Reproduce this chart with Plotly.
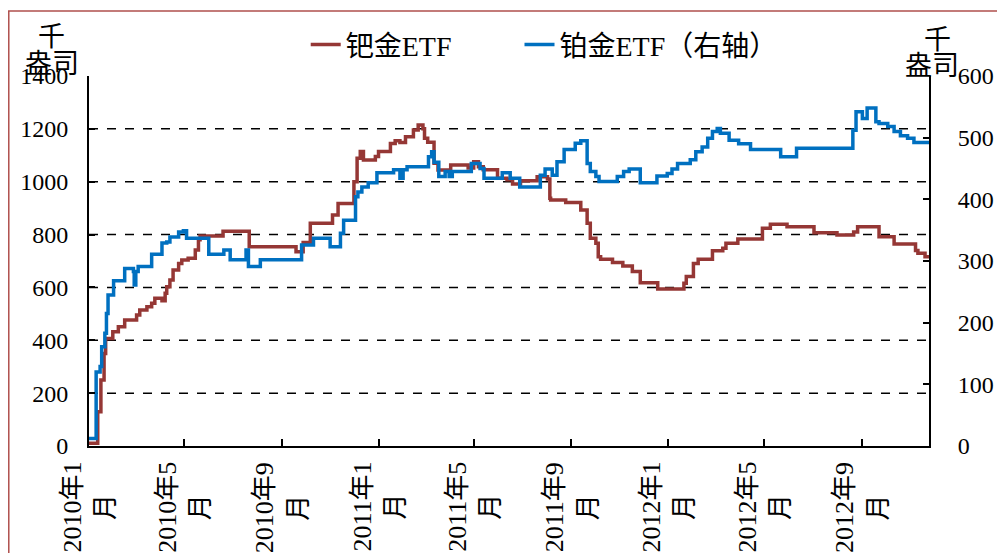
import plotly.graph_objects as go

# 钯金ETF (left axis, 千盎司)
pd_dates = ["2010-01-01", "2010-01-09", "2010-01-12", "2010-01-16", "2010-01-20", "2010-01-22",
            "2010-01-31", "2010-02-07", "2010-02-15", "2010-03-02", "2010-03-06", "2010-03-15",
            "2010-03-21", "2010-03-25", "2010-04-03", "2010-04-07", "2010-04-09", "2010-04-13",
            "2010-04-17", "2010-04-24", "2010-04-28", "2010-05-06", "2010-05-15", "2010-05-19",
            "2010-05-21", "2010-06-19", "2010-07-22", "2010-09-19", "2010-09-28", "2010-10-07",
            "2010-11-04", "2010-11-11", "2010-12-01", "2010-12-05", "2010-12-09", "2010-12-13",
            "2010-12-28", "2011-01-01", "2011-01-16", "2011-01-22", "2011-01-28", "2011-02-04",
            "2011-02-14", "2011-02-20", "2011-02-26", "2011-02-28", "2011-03-04", "2011-03-12",
            "2011-03-17", "2011-04-02", "2011-04-24", "2011-05-01", "2011-05-07", "2011-05-13",
            "2011-05-31", "2011-06-12", "2011-06-19", "2011-06-29", "2011-07-20", "2011-08-02",
            "2011-08-05", "2011-08-06", "2011-08-25", "2011-09-13", "2011-09-21", "2011-09-25",
            "2011-10-02", "2011-10-05", "2011-10-08", "2011-10-23", "2011-11-05", "2011-11-17",
            "2011-11-27", "2011-12-19", "2012-01-21", "2012-01-24", "2012-02-02", "2012-02-08",
            "2012-02-26", "2012-03-10", "2012-03-14", "2012-03-29", "2012-04-29", "2012-05-09",
            "2012-05-30", "2012-07-03", "2012-08-01", "2012-08-22", "2012-08-27", "2012-09-23",
            "2012-10-12", "2012-11-08", "2012-11-11", "2012-11-20", "2012-11-25"]
pd_values = [10, 10, 130, 250, 350, 407,
             432, 451, 477, 496, 515, 527,
             540, 559, 550, 578, 603, 628,
             666, 691, 704, 710, 742, 780,
             795, 813, 754, 735, 770, 843,
             874, 918, 1000, 1089, 1114, 1082,
             1095, 1114, 1145, 1155, 1148, 1170,
             1196, 1215, 1200, 1164, 1149, 1070,
             1044, 1063, 1052, 1076, 1057, 1045,
             1013, 1007, 991, 1004, 1019, 1010,
             937, 931, 921, 893, 843, 786,
             767, 716, 707, 694, 681, 660,
             618, 594, 616, 641, 691, 707,
             739, 748, 767, 783, 824, 839,
             830, 807, 798, 810, 830, 792,
             764, 740, 729, 716, 710]

# 铂金ETF (right axis, 千盎司)
pt_dates = ["2010-01-01", "2010-01-10", "2010-01-15", "2010-01-17", "2010-01-21", "2010-01-23",
            "2010-01-25", "2010-02-01", "2010-02-15", "2010-02-26", "2010-02-27", "2010-03-01",
            "2010-03-04", "2010-03-21", "2010-04-03", "2010-04-09", "2010-04-13", "2010-04-24",
            "2010-04-30", "2010-05-04", "2010-06-01", "2010-06-20", "2010-06-28", "2010-07-18",
            "2010-07-21", "2010-08-05", "2010-09-26", "2010-10-11", "2010-11-01", "2010-11-14",
            "2010-11-18", "2010-12-03", "2010-12-06", "2010-12-11", "2010-12-19", "2010-12-30",
            "2011-01-20", "2011-01-28", "2011-02-01", "2011-02-06", "2011-03-05", "2011-03-09",
            "2011-03-12", "2011-03-18", "2011-03-26", "2011-03-31", "2011-04-04", "2011-04-28",
            "2011-05-09", "2011-05-14", "2011-06-06", "2011-06-16", "2011-06-28", "2011-07-24",
            "2011-07-30", "2011-08-08", "2011-08-14", "2011-08-23", "2011-09-06", "2011-09-13",
            "2011-09-21", "2011-09-25", "2011-10-02", "2011-10-06", "2011-10-29", "2011-11-06",
            "2011-11-13", "2011-11-27", "2011-12-18", "2011-12-31", "2012-01-06", "2012-01-13",
            "2012-01-29", "2012-02-05", "2012-02-13", "2012-02-20", "2012-02-26", "2012-03-03",
            "2012-03-07", "2012-03-18", "2012-03-30", "2012-04-14", "2012-05-22", "2012-06-11",
            "2012-08-21", "2012-08-25", "2012-09-02", "2012-09-08", "2012-09-19", "2012-09-23",
            "2012-10-04", "2012-10-12", "2012-10-20", "2012-10-29", "2012-11-06", "2012-11-25"]
pt_values = [12, 120, 129, 161, 183, 215,
             245, 268, 288, 283, 261, 283,
             291, 311, 329, 331, 339, 347,
             349, 337, 311, 318, 302, 318,
             291, 302, 326, 337, 323, 345,
             366, 404, 412, 420, 427, 443,
             448, 434, 448, 453, 469, 477,
             460, 437, 445, 437, 445, 458,
             450, 434, 443, 434, 420, 439,
             449, 439, 461, 481, 491, 495,
             458, 445, 437, 429, 437, 445,
             449, 427, 438, 442, 449, 458,
             464, 477, 485, 499, 510, 515,
             507, 496, 490, 481, 469, 483,
             512, 542, 531, 548, 526, 523,
             518, 510, 503, 499, 492, 492]

series_names = ["钯金ETF", "铂金ETF（右轴）"]
tick_dates = ["2010-01-01", "2010-05-01", "2010-09-01", "2011-01-01", "2011-05-01",
              "2011-09-01", "2012-01-01", "2012-05-01", "2012-09-01"]
tick_labels = ["2010年1<br>月", "2010年5<br>月", "2010年9<br>月", "2011年1<br>月", "2011年5<br>月",
               "2011年9<br>月", "2012年1<br>月", "2012年5<br>月", "2012年9<br>月"]
left_ticks = [0, 200, 400, 600, 800, 1000, 1200, 1400]
right_ticks = [0, 100, 200, 300, 400, 500, 600]
grid_values = [200, 400, 600, 800, 1000, 1200]

FONT = "Liberation Serif, Noto Sans CJK SC, serif"
RED = "#953735"
BLUE = "#0070C0"
PAD = "\u00a0" * 9

fig = go.Figure()
fig.add_trace(go.Scatter(x=pd_dates, y=pd_values, mode="lines", name=series_names[0] + PAD,
                         line=dict(color=RED, width=3.5, shape="hv")))
fig.add_trace(go.Scatter(x=pt_dates, y=pt_values, mode="lines", name=series_names[1],
                         yaxis="y2", line=dict(color=BLUE, width=3.5, shape="hv")))

for g in grid_values:
    fig.add_shape(type="line", xref="paper", x0=0, x1=1, yref="y", y0=g, y1=g,
                  line=dict(color="black", width=1.5, dash="dash"), layer="below")

# outer frame
fig.add_shape(type="rect", xref="paper", yref="paper", x0=-0.0955, x1=1.2, y0=-0.4, y1=1.1757,
              line=dict(color="#B0504D", width=1.5))

# x tick labels (rotated, centred two-line labels)
for d, t in zip(tick_dates, tick_labels):
    fig.add_annotation(x=d, xref="x", y=0, yref="paper", text=t, showarrow=False,
                       textangle=-90, align="center", xanchor="center", yanchor="top",
                       yshift=-14, font=dict(size=26, family=FONT, color="black"))

fig.update_layout(
    width=1005, height=553,
    margin=dict(l=81, r=84, t=68, b=115, autoexpand=False),
    paper_bgcolor="white", plot_bgcolor="white",
    font=dict(family=FONT, size=24, color="black"),
    showlegend=True,
    legend=dict(orientation="h", x=0.258, y=1.084, xanchor="left", yanchor="middle",
                font=dict(size=28, family=FONT), bgcolor="rgba(0,0,0,0)"),
    xaxis=dict(type="date", range=["2010-01-01", "2012-11-25"],
               tickmode="array", tickvals=tick_dates, showticklabels=False,
               ticks="inside", ticklen=7, tickwidth=2, tickcolor="black", automargin=False,
               showline=True, linecolor="black", linewidth=2, showgrid=False, zeroline=False),
    yaxis=dict(range=[0, 1400], tickmode="array", tickvals=left_ticks, automargin=False,
               ticks="inside", ticklen=6, tickwidth=2, tickcolor="black",
               showline=True, linecolor="black", linewidth=2, showgrid=False, zeroline=False,
               ticklabelstandoff=14, tickfont=dict(size=24, family=FONT)),
    yaxis2=dict(range=[0, 600], tickmode="array", tickvals=right_ticks, overlaying="y", side="right",
                ticks="inside", ticklen=6, tickwidth=2, tickcolor="black", automargin=False,
                showline=True, linecolor="black", linewidth=2, showgrid=False, zeroline=False,
                ticklabelstandoff=22, tickfont=dict(size=24, family=FONT)),
)

# axis unit titles
for xp, yp, txt in [(-0.045, 1.111, "千"), (-0.044, 1.038, "盎司"),
                    (1.0107, 1.103, "千"), (1.0036, 1.035, "盎司")]:
    fig.add_annotation(xref="paper", yref="paper", x=xp, y=yp, text=txt, showarrow=False,
                       font=dict(size=27, family="Noto Sans CJK SC", color="black"),
                       xanchor="center", yanchor="middle")

fig.write_html("out.html")
